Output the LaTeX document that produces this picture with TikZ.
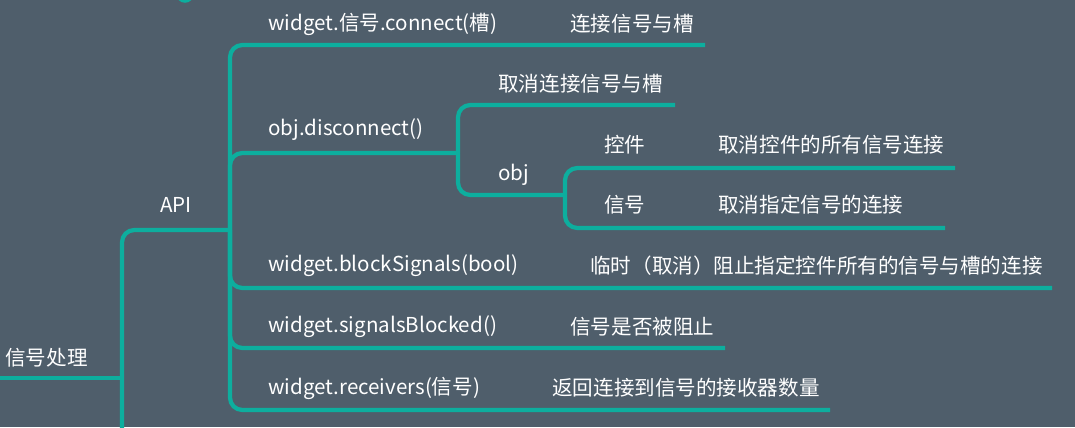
\documentclass[tikz,border=0pt]{standalone}
\usepackage{fontspec}
\setmainfont{Noto Sans CJK SC}
\definecolor{bg}{HTML}{4F5E6B}
\definecolor{teal}{HTML}{0DAE9E}
\tikzset{
  branch/.style={draw=teal, line width=2.4pt, rounded corners=7pt},
  lbl/.style={text=white, anchor=west, inner sep=0pt, font=\fontsize{11.7}{13}\selectfont},
}
\begin{document}
\begin{tikzpicture}[x=0.02cm, y=-0.02cm]
  \fill[bg] (0,0) rectangle (1075,427);
  \useasboundingbox (0,0) rectangle (1075,427);
  \clip (0,0) rectangle (1075,427);
  \draw[teal, line width=2pt] (185,-6) circle (7);
  % root
  \coordinate (root) at (0,378);
  \coordinate (api) at (122,378);
  \node[lbl] (tRoot) at (5,358) {信号处理};
  \draw[branch] (root) -- (api);
  \draw[branch] (122,440) -- (122,230) -- (230,230);
  \node[lbl] (tApi) at (160,205) {API};
  % API branches
  \coordinate (hub) at (230,230);
  \foreach \y/\xe in {45/705, 153/458, 288/1052, 348/725, 410/830}
    \draw[branch] (hub) -- (230,\y) -- (\xe,\y);
  \node[lbl] (tConnect) at (268,24) {widget.信号.connect(槽)};
  \node[lbl] (dConnect) at (570,24) {连接信号与槽};
  \node[lbl] (tDisc) at (268,130) {obj.disconnect()};
  \node[lbl] (tBlock) at (268,266) {widget.blockSignals(bool)};
  \node[lbl] (dBlock) at (590,266) {临时（取消）阻止指定控件所有的信号与槽的连接};
  \node[lbl] (tBlocked) at (268,327) {widget.signalsBlocked()};
  \node[lbl] (dBlocked) at (570,327) {信号是否被阻止};
  \node[lbl] (tRecv) at (268,388) {widget.receivers(信号)};
  \node[lbl] (dRecv) at (552,388) {返回连接到信号的接收器数量};
  % disconnect
  \coordinate (disc) at (458,153);
  \draw[branch] (disc) -- (458,105) -- (675,105);
  \draw[branch] (disc) -- (458,195) -- (565,195);
  \node[lbl] (dDisc) at (498,84) {取消连接信号与槽};
  \node[lbl] (tObj) at (498,175) {obj};
  % obj
  \coordinate (obj) at (565,195);
  \draw[branch] (obj) -- (565,168) -- (955,168);
  \draw[branch] (obj) -- (565,228) -- (945,228);
  \node[lbl] (tWidget) at (604,145) {控件};
  \node[lbl] (dWidget) at (718,145) {取消控件的所有信号连接};
  \node[lbl] (tSignal) at (604,205) {信号};
  \node[lbl] (dSignal) at (718,205) {取消指定信号的连接};
\end{tikzpicture}
\end{document}
